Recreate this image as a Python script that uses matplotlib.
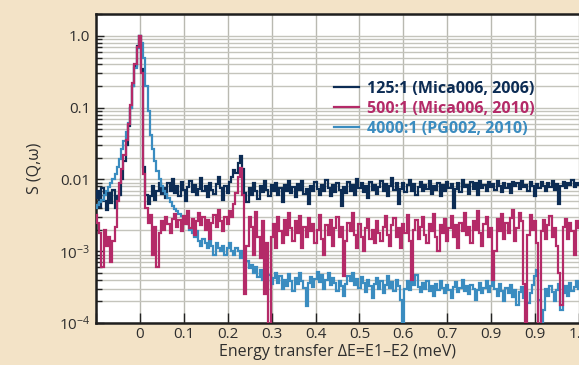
import numpy as np
import matplotlib
matplotlib.use("Agg")
import matplotlib.pyplot as plt
from matplotlib.ticker import FixedLocator, LogLocator, NullFormatter

plt.rcParams["font.family"] = ["Open Sans", "DejaVu Sans"]
plt.rcParams["mathtext.fontset"] = "custom"
plt.rcParams["mathtext.rm"] = "Open Sans"
plt.rcParams["mathtext.it"] = "Open Sans:italic"

# Energy transfer bins (meV), 0.005 meV spacing from -0.1 to 1.0
energy = np.round(np.arange(221) * 0.005 - 0.1, 4)

# S(Q,w) for the 125:1 Mica006 (2006) analyser
s_mica_2006 = [
    0.0055, 0.0068, 0.0042, 0.0075, 0.0050, 0.0038, 0.0064, 0.0047, 0.0071, 0.0040,
    0.0058, 0.0060, 0.010, 0.018, 0.030, 0.055, 0.10, 0.20, 0.38, 0.72,
    1.0, 0.35, 0.015, 0.0060, 0.0045, 0.0058, 0.0080, 0.0052, 0.0068, 0.0090,
    0.0062, 0.0075, 0.0055, 0.0088, 0.0070, 0.0100, 0.0064, 0.0082, 0.0058, 0.0093,
    0.0071, 0.0050, 0.0078, 0.0095, 0.0066, 0.0084, 0.0060, 0.0074, 0.0105, 0.0068,
    0.0080, 0.0057, 0.0090, 0.0072, 0.0062, 0.0086, 0.0110, 0.0075, 0.0052, 0.0080,
    0.0065, 0.0092, 0.0110, 0.0135, 0.0125, 0.0170, 0.0210, 0.0140, 0.0065, 0.0048,
    0.0075, 0.0060, 0.0088, 0.0070, 0.0053, 0.0081, 0.0066, 0.0095, 0.0072, 0.0058,
    0.0084, 0.0068, 0.0090, 0.0061, 0.0077, 0.0049, 0.0083, 0.0070, 0.0094, 0.0065,
    0.0079, 0.0057, 0.0087, 0.0071, 0.0096, 0.0062, 0.0074, 0.0045, 0.0082, 0.0068,
    0.0091, 0.0073, 0.0060, 0.0085, 0.0069, 0.0097, 0.0076, 0.0058, 0.0083, 0.0066,
    0.0088, 0.0072, 0.0043, 0.0079, 0.0065, 0.0092, 0.0070, 0.0085, 0.0061, 0.0102,
    0.0075, 0.0089, 0.0067, 0.0081, 0.0056, 0.0093, 0.0072, 0.0084, 0.0063, 0.0078,
    0.0095, 0.0069, 0.0086, 0.0059, 0.0080, 0.0104, 0.0071, 0.0088, 0.0046, 0.0074,
    0.0090, 0.0066, 0.0083, 0.0098, 0.0070, 0.0087, 0.0061, 0.0079, 0.0093, 0.0068,
    0.0085, 0.0074, 0.0096, 0.0063, 0.0081, 0.0072, 0.0090, 0.0058, 0.0084, 0.0069,
    0.0092, 0.0077, 0.0087, 0.0040, 0.0073, 0.0089, 0.0066, 0.0098, 0.0079, 0.0085,
    0.0062, 0.0091, 0.0074, 0.0088, 0.0060, 0.0095, 0.0076, 0.0084, 0.0068, 0.0093,
    0.0079, 0.0087, 0.0071, 0.0096, 0.0082, 0.0067, 0.0090, 0.0075, 0.0086, 0.0064,
    0.0092, 0.0080, 0.0088, 0.0073, 0.0095, 0.0078, 0.0085, 0.0069, 0.0091, 0.0081,
    0.0058, 0.0087, 0.0075, 0.0093, 0.0082, 0.0070, 0.0089, 0.0079, 0.0094, 0.0072,
    0.0086, 0.0045, 0.0080, 0.0092, 0.0076, 0.0088, 0.0083, 0.0097, 0.0079, 0.0090,
    0.0085,
]

# S(Q,w) for the 500:1 Mica006 (2010) analyser
s_mica_2010 = [
    0.0032, 0.0025, 0.0018, 0.0006, 0.0020, 0.0012, 0.0016, 0.0007, 0.0014, 0.0022,
    0.0050, 0.0090, 0.014, 0.022, 0.035, 0.060, 0.11, 0.22, 0.40, 0.70,
    1.0, 0.30, 0.012, 0.0040, 0.0025, 0.0032, 0.0009, 0.0022, 0.0006, 0.0018,
    0.0026, 0.0020, 0.0030, 0.0024, 0.0018, 0.0028, 0.0033, 0.0022, 0.0027, 0.0019,
    0.0031, 0.0024, 0.0036, 0.0021, 0.0028, 0.0017, 0.0026, 0.0034, 0.0023, 0.0030,
    0.0020, 0.0027, 0.0015, 0.0025, 0.0032, 0.0022, 0.0038, 0.0026, 0.0019, 0.0030,
    0.0024, 0.0036, 0.0030, 0.0045, 0.0065, 0.0110, 0.0145, 0.0060, 0.00025, 0.0012,
    0.0030, 0.0022, 0.0009, 0.0035, 0.0016, 0.0008, 0.0026, 0.00025, 0.0013, 0.00009,
    0.0016, 0.0024, 0.0011, 0.0030, 0.0019, 0.0013, 0.0027, 0.0017, 0.0034, 0.0021,
    0.0014, 0.0026, 0.0018, 0.0031, 0.0011, 0.0022, 0.0016, 0.0029, 0.0019, 0.0024,
    0.0013, 0.0020, 0.0032, 0.0015, 0.0009, 0.0023, 0.0017, 0.0027, 0.0012, 0.0021,
    0.0030, 0.0016, 0.0022, 0.00045, 0.0014, 0.0025, 0.0019, 0.0034, 0.0017, 0.0011,
    0.0024, 0.0016, 0.0010, 0.0021, 0.0028, 0.0015, 0.0020, 0.0013, 0.0026, 0.0018,
    0.0014, 0.0022, 0.0031, 0.0017, 0.0012, 0.0023, 0.0029, 0.0016, 0.0021, 0.0011,
    0.0024, 0.0018, 0.0032, 0.0014, 0.0004, 0.0020, 0.0027, 0.0015, 0.0022, 0.0030,
    0.0017, 0.0013, 0.0024, 0.0019, 0.0033, 0.0016, 0.0010, 0.0023, 0.0018, 0.0028,
    0.0014, 0.0021, 0.0031, 0.0016, 0.0023, 0.0011, 0.0025, 0.0019, 0.0034, 0.0017,
    0.0022, 0.0013, 0.0026, 0.0020, 0.0036, 0.0018, 0.0012, 0.0024, 0.0030, 0.0016,
    0.0021, 0.0004, 0.0010, 0.0028, 0.0019, 0.0033, 0.0015, 0.0025, 0.0018, 0.0029,
    0.0037, 0.0014, 0.0021, 0.0034, 0.0026, 0.00035, 0.00009, 0.0017, 0.0032, 0.0020,
    0.0026, 0.0013, 0.00009, 0.0019, 0.0027, 0.0015, 0.0023, 0.0031, 0.0016, 0.0021,
    0.0012, 0.0005, 0.00018, 0.0022, 0.0028, 0.0015, 0.0025, 0.0019, 0.0009, 0.0026,
    0.0021,
]

# S(Q,w) for the 4000:1 PG002 (2010) analyser
s_pg_2010 = [
    0.0040, 0.0044, 0.0048, 0.0052, 0.0060, 0.0068, 0.0078, 0.0088, 0.0102, 0.0120,
    0.0150, 0.019, 0.027, 0.034, 0.046, 0.062, 0.10, 0.20, 0.36, 0.68,
    1.0, 0.80, 0.50, 0.20, 0.090, 0.042, 0.027, 0.018, 0.013, 0.0100,
    0.0082, 0.0070, 0.0062, 0.0055, 0.0048, 0.0043, 0.0039, 0.0036, 0.0033, 0.0031,
    0.0029, 0.0026, 0.0024, 0.0020, 0.0018, 0.0016, 0.0019, 0.0014, 0.0012, 0.0015,
    0.0013, 0.0011, 0.0014, 0.0012, 0.0009, 0.0013, 0.0011, 0.0010, 0.0012, 0.0009,
    0.0011, 0.0013, 0.0010, 0.0009, 0.0011, 0.0010, 0.0008, 0.0010, 0.0006, 0.00072,
    0.00058, 0.00065, 0.00050, 0.00060, 0.00044, 0.00055, 0.00040, 0.00052, 0.00038, 0.00046,
    0.00035, 0.00042, 0.00050, 0.00036, 0.00045, 0.00030, 0.00040, 0.00033, 0.00048, 0.00038,
    0.00028, 0.00043, 0.00035, 0.00050, 0.00039, 0.00031, 0.00017, 0.00036, 0.00044, 0.00032,
    0.00041, 0.00052, 0.00037, 0.00046, 0.00030, 0.00040, 0.00049, 0.00034, 0.00043, 0.00036,
    0.00028, 0.00039, 0.00033, 0.00024, 0.00035, 0.00045, 0.00038, 0.00050, 0.00034, 0.00041,
    0.00031, 0.00044, 0.00036, 0.00027, 0.00040, 0.00033, 0.00022, 0.00035, 0.00042, 0.00030,
    0.00038, 0.00026, 0.00034, 0.00045, 0.00031, 0.00037, 0.00028, 0.00040, 0.00033, 0.00021,
    0.00009, 0.00030, 0.00038, 0.00029, 0.00041, 0.00034, 0.00046, 0.00032, 0.00027, 0.00036,
    0.00030, 0.00039, 0.00028, 0.00033, 0.00024, 0.00035, 0.00029, 0.00038, 0.00031, 0.00026,
    0.00034, 0.00029, 0.00022, 0.00032, 0.00037, 0.00027, 0.00031, 0.00040, 0.00028, 0.00033,
    0.00025, 0.00034, 0.00030, 0.00021, 0.00029, 0.00036, 0.00026, 0.00031, 0.00038, 0.00027,
    0.00033, 0.00060, 0.00030, 0.00024, 0.00035, 0.00028, 0.00020, 0.00031, 0.00026, 0.00034,
    0.00023, 0.00029, 0.00018, 0.00027, 0.00032, 0.00022, 0.00028, 0.00019, 0.00026, 0.00034,
    0.00045, 0.00055, 0.00021, 0.00009, 0.00015, 0.00030, 0.00024, 0.00033, 0.00027, 0.00020,
    0.00029, 0.00035, 0.00015, 0.00026, 0.00033, 0.00024, 0.00036, 0.00028, 0.00032, 0.00038,
    0.00030,
]

series_labels = ["125:1 (Mica006, 2006)", "500:1 (Mica006, 2010)", "4000:1 (PG002, 2010)"]
series_colors = ["#0c2c54", "#b42a68", "#3a8cc0"]

x_tick_values = [0.0, 0.1, 0.2, 0.3, 0.4, 0.5, 0.6, 0.7, 0.8, 0.9, 1.0]
x_tick_labels = ["0", "0.1", "0.2", "0.3", "0.4", "0.5", "0.6", "0.7", "0.9", "0.9", "1.0"]
y_tick_values = [1.0, 0.1, 0.01, 1e-3, 1e-4]
y_tick_labels = ["1.0", "0.1", "0.01", r"$10^{-3}$", r"$10^{-4}$"]

bg = "#f3e3c7"
text_col = "#2e2e2e"

fig = plt.figure(figsize=(5.79, 3.65), dpi=100, facecolor=bg)
ax = fig.add_axes([0.1658, 0.115, 0.8342, 0.8466])
ax.set_facecolor("white")

ax.set_yscale("log")
ax.set_xlim(-0.1, 1.0)
ax.set_ylim(1e-4, 2.02)

# grid: vertical at every 0.1 meV, horizontal at every decade sub-division
ax.xaxis.set_major_locator(FixedLocator([-0.1] + x_tick_values))
ax.set_xticklabels([""] + x_tick_labels)
ax.yaxis.set_major_locator(FixedLocator(y_tick_values))
ax.set_yticklabels(y_tick_labels)
ax.yaxis.set_minor_locator(LogLocator(base=10, subs=np.arange(2, 10)))
ax.yaxis.set_minor_formatter(NullFormatter())

ax.grid(True, axis="x", which="major", color="#b9b9b1", lw=1.0, zorder=0)
ax.grid(True, axis="y", which="both", color="#c4c4bc", lw=1.0, zorder=0)
ax.set_axisbelow(True)

ax.tick_params(axis="both", which="major", direction="in", length=6, width=1.0,
               color="#222222", labelsize=11, labelcolor=text_col, pad=4)
ax.tick_params(axis="y", which="minor", direction="in", length=4, width=1.0, color="#222222")
ax.tick_params(axis="x", which="major", length=7, pad=3)

for side in ["left", "bottom", "top"]:
    ax.spines[side].set_linewidth(1.8)
    ax.spines[side].set_color("#1e1e1e")
ax.spines["right"].set_visible(False)

series = [s_mica_2006, s_mica_2010, s_pg_2010]
zorders = [3, 5, 4]
for vals, lab, col, z in zip(series, series_labels, series_colors, zorders):
    ax.plot(energy, vals, drawstyle="steps-mid", color=col, lw=1.6, label=lab,
            zorder=z, solid_joinstyle="miter")

handles, labels = ax.get_legend_handles_labels()
leg = ax.legend(handles, labels, loc="upper left", bbox_to_anchor=(0.462, 0.83),
                frameon=False, handlelength=1.6, handletextpad=0.5,
                labelspacing=0.25, prop={"size": 11.5, "weight": "bold"})
for txt, col in zip(leg.get_texts(), series_colors):
    txt.set_color(col)
for ln in leg.get_lines():
    ln.set_linewidth(1.6)

ax.set_xlabel("Energy transfer \u0394E=E1\u2013E2 (meV)", fontsize=11.5, color=text_col, labelpad=1)
ax.set_ylabel("S (Q,\u03c9)", fontsize=11.5, color=text_col, labelpad=12)

fig.savefig("out.png", dpi=100, facecolor=bg)
